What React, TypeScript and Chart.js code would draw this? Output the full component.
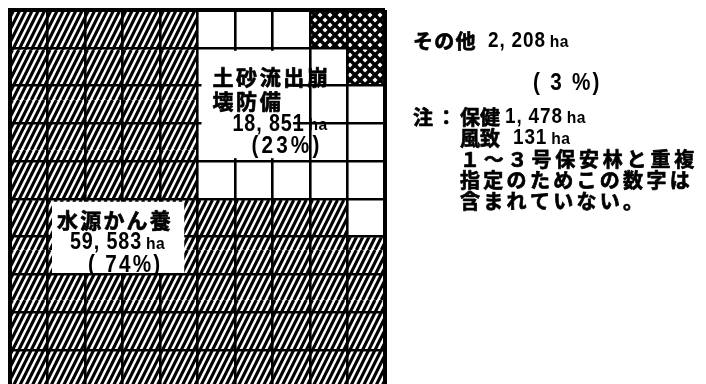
import React, { useEffect, useRef } from 'react';
import { Chart, registerables } from 'chart.js';

Chart.register(...registerables);

// ---- data ----
const columns = ['1', '2', '3', '4', '5', '6', '7', '8', '9', '10'];
const categoryNames = ['その他', '土砂流出崩壊防備', '水源かん養'];
// cells per column, counted from the top row down
const otherCells = [0, 0, 0, 0, 0, 0, 0, 0, 1, 2];
const sabouCells = [0, 0, 0, 0, 0, 5, 5, 5, 4, 4];
const suigenCells = [10, 10, 10, 10, 10, 5, 5, 5, 5, 4];

const otherArea = '2, 208';
const otherPct = '( 3 %)';
const sabouArea = '18, 851';
const sabouPct = '(23%)';
const suigenArea = '59, 583';
const suigenPct = '( 74%)';
const hokenArea = '1, 478';
const fuchiArea = '131';
const noteLines = ['１～３号保安林と重複', '指定のためこの数字は', '含まれていない。'];

const JP = '"Noto Sans CJK JP", "Noto Sans CJK SC", sans-serif';
const NUM = '"Liberation Sans", Arial, sans-serif';
const HA = '"Liberation Sans Narrow", "Liberation Sans", sans-serif';

function makeHatch(): CanvasPattern | string {
  const c = document.createElement('canvas');
  c.width = 25;
  c.height = 50;
  const g = c.getContext('2d');
  if (!g) return '#000';
  g.fillStyle = '#fff';
  g.fillRect(0, 0, 25, 50);
  g.strokeStyle = '#000';
  g.lineWidth = 3.1;
  for (let k = -8; k <= 8; k++) {
    const o = k * 6.25;
    g.beginPath();
    g.moveTo(o, 50);
    g.lineTo(o + 25, 0);
    g.stroke();
  }
  return g.createPattern(c, 'repeat') || '#000';
}

function makeCross(): CanvasPattern | string {
  const s = 10;
  const c = document.createElement('canvas');
  c.width = s;
  c.height = s;
  const g = c.getContext('2d');
  if (!g) return '#000';
  g.fillStyle = '#fff';
  g.fillRect(0, 0, s, s);
  g.strokeStyle = '#000';
  g.lineWidth = 3.5;
  for (let k = -1; k <= 1; k++) {
    g.beginPath();
    g.moveTo(k * s, 0);
    g.lineTo(k * s + s, s);
    g.stroke();
    g.beginPath();
    g.moveTo(k * s, s);
    g.lineTo(k * s + s, 0);
    g.stroke();
  }
  return g.createPattern(c, 'repeat') || '#000';
}

function txt(
  ctx: CanvasRenderingContext2D,
  s: string,
  x: number,
  y: number,
  font: string,
  spacing = 0,
  heavy = 0,
  sx = 1
) {
  ctx.save();
  ctx.font = font;
  (ctx as any).letterSpacing = spacing + 'px';
  ctx.textAlign = 'left';
  ctx.textBaseline = 'middle';
  ctx.fillStyle = '#000';
  ctx.translate(x, y);
  ctx.scale(sx, 1);
  ctx.fillText(s, 0, 0);
  if (heavy > 0) {
    ctx.strokeStyle = '#000';
    ctx.lineWidth = heavy;
    ctx.lineJoin = 'round';
    ctx.strokeText(s, 0, 0);
  }
  const w = ctx.measureText(s).width * sx;
  ctx.restore();
  return w;
}

function numHa(ctx: CanvasRenderingContext2D, s: string, x: number, y: number, size = 22) {
  const w = txt(ctx, s, x, y, `bold ${size}px ${NUM}`, 1, 0, 0.86);
  return txt(ctx, 'ha', x + w + 4, y + 1, `bold 17px ${HA}`, 0.5, 0, 0.92);
}

const JPF = (n: number) => `bold ${n}px ${JP}`;
const jp = (ctx: CanvasRenderingContext2D, s: string, x: number, y: number, size: number, spacing: number) =>
  txt(ctx, s, x, y, JPF(size), spacing, 0.7);

const labelPlugin = {
  id: 'waffleLabels',
  afterDraw(chart: any) {
    const ctx: CanvasRenderingContext2D = chart.ctx;
    const xs = chart.scales.x;
    const ys = chart.scales.y;
    const cw = (xs.right - xs.left) / columns.length;
    const cx = (c: number) => xs.left + c * cw;
    const ry = (r: number) => ys.getPixelForValue(r);
    ctx.save();

    // 土砂流出崩壊防備 label
    const sx = cx(5);
    const sy = ry(1);
    ctx.fillStyle = '#fff';
    ctx.fillRect(sx + 4, sy + 3, cx(8) - 17 - (sx + 4), ry(4) - 3 - (sy + 3));
    jp(ctx, '土砂流出崩', sx + 15, sy + 29, 21, 2.6);
    jp(ctx, '壊防備', sx + 15, sy + 53, 21, 2.6);
    numHa(ctx, sabouArea, sx + 35, ry(3) + 1, 23);
    txt(ctx, sabouPct, sx + 54, ry(3) + 23, `bold 23px ${NUM}`, 3.5, 0, 0.9);

    // 水源かん養 label
    const wx0 = cx(1) + 4.5;
    const wy0 = ry(5) + 2.5;
    const wx1 = cx(5) - 13;
    const wy1 = ry(7) - 1.5;
    ctx.save();
    ctx.beginPath();
    ctx.rect(wx0, wy0, wx1 - wx0, wy1 - wy0);
    ctx.clip();
    ctx.fillStyle = '#fff';
    ctx.fillRect(wx0, wy0, wx1 - wx0, wy1 - wy0);
    jp(ctx, '水源かん養', cx(1) + 9.5, ry(5) + 21, 21, 2.2);
    numHa(ctx, suigenArea, cx(1) + 22.5, ry(5) + 44, 23);
    txt(ctx, suigenPct, cx(1) + 40.5, ry(5) + 67, `bold 23px ${NUM}`, 2.5, 0, 0.9);
    ctx.restore();

    // notes on the right
    const nx = 413;
    jp(ctx, categoryNames[0], nx, 41, 20, 1.3);
    numHa(ctx, otherArea, 488, 41, 22);
    txt(ctx, otherPct, 533, 84, `bold 23px ${NUM}`, 2.5, 0, 0.9);
    jp(ctx, '注：', nx, 117, 20, 3.3);
    jp(ctx, '保健', 460, 117, 20, 0);
    numHa(ctx, hokenArea, 505, 117, 22);
    jp(ctx, '風致', 460, 138, 20, 0);
    numHa(ctx, fuchiArea, 513, 138, 22);
    jp(ctx, noteLines[0], 460, 159, 20, 3.8);
    jp(ctx, noteLines[1], 460, 180, 20, 3.3);
    jp(ctx, noteLines[2], 460, 201, 20, 3.3);

    ctx.restore();
  },
};

export default function App() {
  const ref = useRef<HTMLCanvasElement | null>(null);

  useEffect(() => {
    const canvas = ref.current;
    if (!canvas) return;
    const hatch = makeHatch();
    const cross = makeCross();
    const edge = 4;
    const inner = 2.6;
    const chart = new Chart(canvas, {
      type: 'bar',
      data: {
        labels: columns,
        datasets: [
          { label: categoryNames[0], data: otherCells, backgroundColor: cross as any, borderWidth: 0 },
          { label: categoryNames[1], data: sabouCells, backgroundColor: '#ffffff', borderWidth: 0 },
          { label: categoryNames[2], data: suigenCells, backgroundColor: hatch as any, borderWidth: 0 },
        ],
      },
      options: {
        animation: false,
        responsive: false,
        devicePixelRatio: 1,
        layout: { padding: { left: 10, top: 10, right: 321, bottom: 4 } },
        plugins: { legend: { display: false }, tooltip: { enabled: false } },
        datasets: { bar: { barPercentage: 1, categoryPercentage: 1 } },
        scales: {
          x: {
            stacked: true,
            ticks: { display: false },
            grid: {
              z: 1,
              color: '#000',
              offset: true,
              drawTicks: false,
              lineWidth: (c: any) => (c.type !== 'tick' || c.index === 0 ? edge : inner),
            },
            border: { display: false },
          },
          y: {
            stacked: true,
            reverse: true,
            min: 0,
            max: 10,
            ticks: { display: false, stepSize: 1 },
            grid: {
              z: 1,
              color: '#000',
              drawTicks: false,
              lineWidth: (c: any) =>
                c.tick && (c.tick.value === 0 || c.tick.value === 10) ? edge : inner,
            },
            border: { display: true, color: '#000', width: edge, z: 2 },
          },
        },
      } as any,
      plugins: [labelPlugin],
    });
    return () => chart.destroy();
  }, []);

  return (
    <div
      style={{
        position: 'fixed',
        left: 0,
        top: 0,
        width: 706,
        height: 384,
        overflow: 'hidden',
        background: '#fff',
      }}
    >
      <canvas ref={ref} width={706} height={392} style={{ display: 'block' }} />
    </div>
  );
}
